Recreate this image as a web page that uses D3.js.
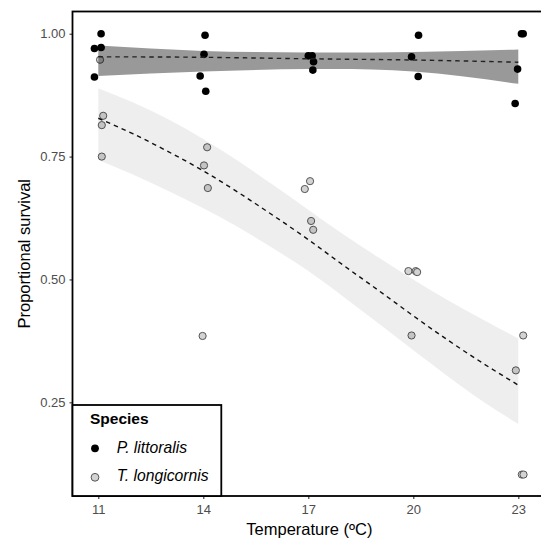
<!DOCTYPE html>
<html>
<head>
<meta charset="utf-8">
<script src="https://cdn.jsdelivr.net/npm/d3@7"></script>
<style>
  body { margin: 0; background: #fff; }
  svg { display: block; font-family: "Liberation Sans", Arial, sans-serif; }
</style>
</head>
<body>
<script>
// tick values
const tempTicks = [11, 14, 17, 20, 23];
const survivalTicks = [0.25, 0.50, 0.75, 1.00];

// P. littoralis observations (temperature jittered as in the plot)
const littoralisTemp = [11.08, 10.89, 11.08, 10.89, 14.05, 14.02, 13.91, 14.07, 17.00, 17.11, 17.15, 17.13, 20.15, 19.95, 20.14, 23.09, 23.14, 22.98, 22.91];
const littoralisSurv = [1.00, 0.970, 0.972, 0.912, 0.997, 0.958, 0.914, 0.883, 0.955, 0.955, 0.943, 0.926, 0.997, 0.953, 0.913, 1.00, 1.00, 0.928, 0.858];

// T. longicornis observations
const longicornisTemp = [11.05, 11.14, 11.10, 11.10, 14.11, 14.02, 14.13, 13.98, 17.05, 16.90, 17.08, 17.14, 19.86, 20.07, 20.11, 19.95, 23.14, 22.93, 23.10, 23.15];
const longicornisSurv = [0.947, 0.833, 0.814, 0.750, 0.769, 0.732, 0.686, 0.385, 0.700, 0.684, 0.619, 0.601, 0.517, 0.517, 0.515, 0.386, 0.386, 0.315, 0.103, 0.103];

// fitted curve + 95% band, P. littoralis
const fitTempL = [11, 14, 17, 20, 23];
const fitL = [0.953, 0.952, 0.949, 0.9465, 0.942];
const lowL = [0.914, 0.923, 0.928, 0.923, 0.898];
const highL = [0.976, 0.965, 0.962, 0.963, 0.968];

// fitted curve + 95% band, T. longicornis
const fitTempT = [11, 12, 13, 14, 15, 16, 17, 18, 19, 20, 21, 22, 23];
const fitT = [0.828, 0.796, 0.760, 0.721, 0.677, 0.630, 0.581, 0.529, 0.478, 0.426, 0.376, 0.329, 0.285];
const lowT = [0.743, 0.713, 0.680, 0.645, 0.606, 0.563, 0.517, 0.465, 0.411, 0.356, 0.302, 0.251, 0.206];
const highT = [0.889, 0.860, 0.826, 0.786, 0.741, 0.692, 0.642, 0.592, 0.545, 0.500, 0.457, 0.418, 0.380];

const w = 541;
const h = 538;

const xScale = d3.scaleLinear()
  .domain([10.263, 23.8])
  .range([72.5, 546.3]);

const yScale = d3.scaleLinear()
  .domain([0.0594, 1.0452])
  .range([496, 11.5]);

const svg = d3.select("body")
  .append("svg")
  .attr("width", w)
  .attr("height", h);

// points
svg.append("g")
  .selectAll("circle")
  .data(longicornisTemp)
  .enter()
  .append("circle")
  .attr("cx", d => xScale(d))
  .attr("cy", (d, i) => yScale(longicornisSurv[i]))
  .attr("r", 3.6)
  .attr("fill", "#d3d3d3")
  .attr("stroke", "#555")
  .attr("stroke-width", 1);

svg.append("g")
  .selectAll("circle")
  .data(littoralisTemp)
  .enter()
  .append("circle")
  .attr("cx", d => xScale(d))
  .attr("cy", (d, i) => yScale(littoralisSurv[i]))
  .attr("r", 3.8)
  .attr("fill", "#000");

// bands
const band = (lo, hi) => d3.area()
  .x(d => xScale(d))
  .y0((d, i) => yScale(lo[i]))
  .y1((d, i) => yScale(hi[i]))
  .curve(d3.curveNatural);

svg.append("path")
  .datum(fitTempT)
  .attr("d", band(lowT, highT))
  .attr("fill", "#000")
  .attr("fill-opacity", 0.065);

svg.append("path")
  .datum(fitTempL)
  .attr("d", band(lowL, highL))
  .attr("fill", "#000")
  .attr("fill-opacity", 0.4);

// fitted lines
const fitLine = vals => d3.line()
  .x(d => xScale(d))
  .y((d, i) => yScale(vals[i]))
  .curve(d3.curveNatural);

svg.append("path")
  .datum(fitTempL)
  .attr("d", fitLine(fitL))
  .attr("fill", "none")
  .attr("stroke", "#222")
  .attr("stroke-width", 1.4)
  .attr("stroke-dasharray", "4.5,4");

svg.append("path")
  .datum(fitTempT)
  .attr("d", fitLine(fitT))
  .attr("fill", "none")
  .attr("stroke", "#111")
  .attr("stroke-width", 1.4)
  .attr("stroke-dasharray", "4.5,4");

// axes
const xAxis = d3.axisBottom(xScale)
  .tickValues(tempTicks)
  .tickSize(3)
  .tickPadding(6)
  .tickFormat(d3.format("d"));

const yAxis = d3.axisLeft(yScale)
  .tickValues(survivalTicks)
  .tickSize(3)
  .tickPadding(4)
  .tickFormat(d3.format(".2f"));

const gx = svg.append("g")
  .attr("transform", "translate(0,496)")
  .call(xAxis);

const gy = svg.append("g")
  .attr("transform", "translate(72.5,0)")
  .call(yAxis);

[gx, gy].forEach(g => {
  g.select(".domain").remove();
  g.selectAll(".tick line").attr("stroke", "#333").attr("stroke-width", 1.1);
  g.selectAll(".tick text")
    .attr("fill", "#4d4d4d")
    .style("font-size", "13px")
    .style("font-family", "'Liberation Sans', Arial, sans-serif");
});

// panel border
svg.append("rect")
  .attr("x", xScale.range()[0])
  .attr("y", yScale.range()[1])
  .attr("width", xScale.range()[1] - xScale.range()[0])
  .attr("height", yScale.range()[0] - yScale.range()[1])
  .attr("fill", "none")
  .attr("stroke", "#000")
  .attr("stroke-width", 1.8);

// axis titles
svg.append("text")
  .attr("x", (xScale.range()[0] + xScale.range()[1]) / 2)
  .attr("y", 535)
  .attr("text-anchor", "middle")
  .attr("fill", "#000")
  .style("font-size", "16.5px")
  .text("Temperature (ºC)");

svg.append("text")
  .attr("transform", "translate(30," + ((yScale.range()[0] + yScale.range()[1]) / 2) + ") rotate(-90)")
  .attr("text-anchor", "middle")
  .attr("fill", "#000")
  .style("font-size", "16.5px")
  .text("Proportional survival");

// legend
const legend = svg.append("g");

legend.append("rect")
  .attr("x", 72.5)
  .attr("y", 405)
  .attr("width", 148.8)
  .attr("height", 91)
  .attr("fill", "#fff")
  .attr("stroke", "#000")
  .attr("stroke-width", 1.8);

legend.append("text")
  .attr("x", 90)
  .attr("y", 424.3)
  .style("font-size", "15.5px")
  .style("font-weight", "bold")
  .text("Species");

const legendItems = ["P. littoralis", "T. longicornis"];
const legendFill = ["#000", "#d3d3d3"];
const legendStroke = ["none", "#555"];

legendItems.forEach((name, i) => {
  legend.append("circle")
    .attr("cx", 95)
    .attr("cy", 448.3 + i * 29)
    .attr("r", 3.9)
    .attr("fill", legendFill[i])
    .attr("stroke", legendStroke[i])
    .attr("stroke-width", 1);
  legend.append("text")
    .attr("x", 116.7)
    .attr("y", 452.7 + i * 28.3)
    .style("font-size", "15.7px")
    .style("font-style", "italic")
    .text(name);
});
</script>
</body>
</html>
